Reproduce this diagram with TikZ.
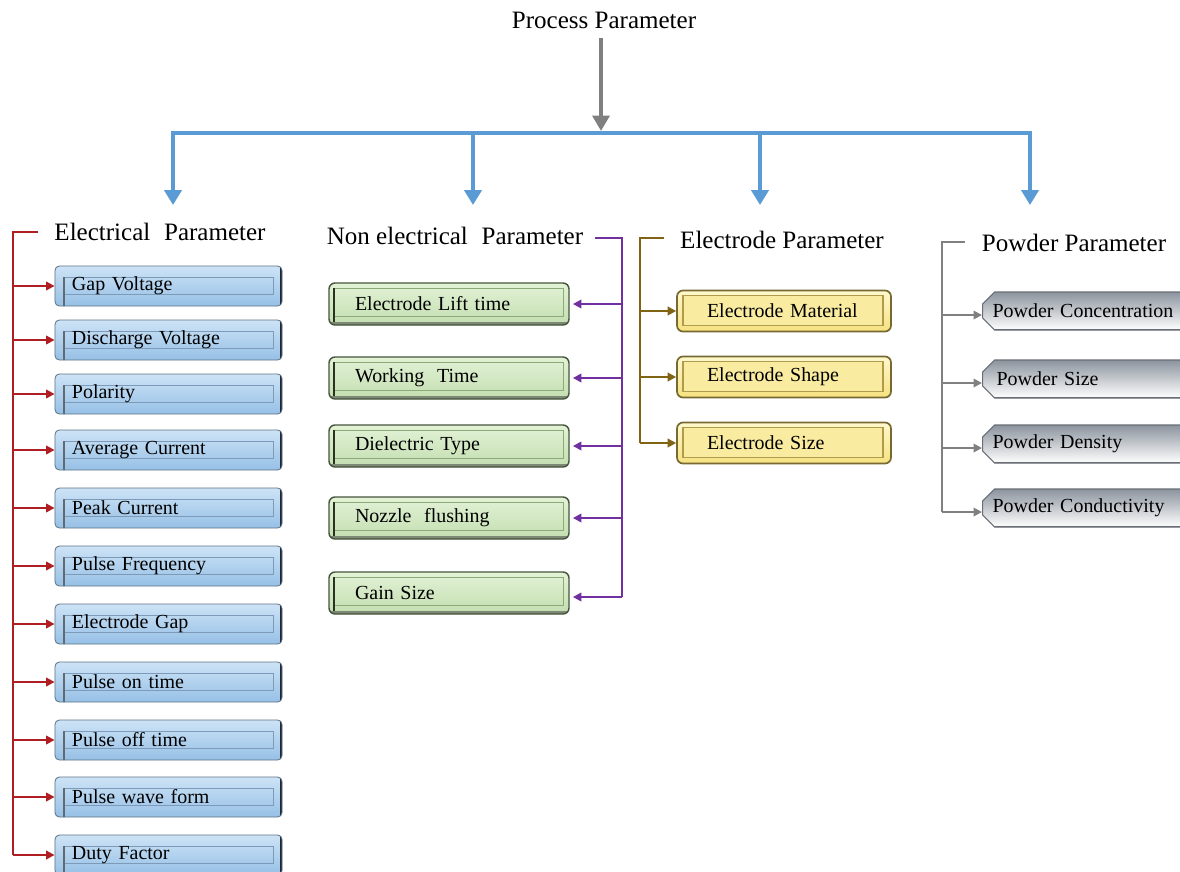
\documentclass[tikz,border=0pt]{standalone}
\usepackage{fontspec}
\setmainfont{Liberation Serif}
\usetikzlibrary{arrows.meta,shapes.misc,calc}
\definecolor{redc}{RGB}{175,30,35}
\definecolor{purc}{RGB}{112,48,160}
\definecolor{olic}{RGB}{128,100,20}
\definecolor{grc}{RGB}{128,128,128}
\definecolor{bluec}{RGB}{91,155,213}
\definecolor{btop}{RGB}{205,227,246}
\definecolor{bbot}{RGB}{150,192,230}
\definecolor{bbord}{RGB}{95,115,135}
\definecolor{binner}{RGB}{125,155,185}
\definecolor{bdark}{RGB}{30,40,52}
\definecolor{gtop}{RGB}{226,242,214}
\definecolor{gbot}{RGB}{195,222,176}
\definecolor{gbord}{RGB}{70,85,60}
\definecolor{ginner}{RGB}{140,170,120}
\definecolor{gdark}{RGB}{40,50,30}
\definecolor{ytop}{RGB}{254,248,205}
\definecolor{ybot}{RGB}{246,226,128}
\definecolor{ybord}{RGB}{120,105,50}
\definecolor{yinner}{RGB}{175,155,75}
\definecolor{ktop}{RGB}{140,148,158}
\definecolor{kbord}{RGB}{105,110,118}
\tikzset{
  hdr/.style={font=\fontsize{17.8}{20}\selectfont, inner sep=0pt},
  boxtxt/.style={font=\fontsize{14.2}{16}\selectfont, align=left, inner ysep=0pt},
  bluebox/.style={boxtxt, rounded corners=1.1mm, draw=bbord, line width=0.6pt,
    top color=btop, bottom color=bbot,
    minimum width=56.75mm, minimum height=10mm, text width=48.25mm, inner xsep=4.25mm,
    path picture={
      \draw[binner, line width=0.7pt, sharp corners] ([shift={(9,11)}]path picture bounding box.north west) rectangle ([shift={(-9,-12)}]path picture bounding box.south east);
      \draw[bdark!70, line width=1pt] ([shift={(9,11)}]path picture bounding box.north west) -- ([shift={(9,12)}]path picture bounding box.south west);
      \draw[bdark, line width=3pt] (path picture bounding box.north east) -- (path picture bounding box.south east);
    }},
  greenbox/.style={boxtxt, rounded corners=1.5mm, draw=gbord, line width=1pt,
    top color=gtop, bottom color=gbot,
    minimum width=60mm, minimum height=10.5mm, text width=47mm, inner xsep=6.5mm,
    path picture={
      \draw[ginner, line width=0.7pt, sharp corners] ([shift={(5,5)}]path picture bounding box.north west) rectangle ([shift={(-6,-9)}]path picture bounding box.south east);
      \draw[gdark, line width=1.4pt] ([shift={(5,5)}]path picture bounding box.north west) -- ([shift={(5,9)}]path picture bounding box.south west);
      \draw[gbord!70, line width=4pt] (path picture bounding box.south west) -- (path picture bounding box.south east);
    }},
  yellowbox/.style={boxtxt, rounded corners=1.5mm, draw=ybord, line width=1.2pt,
    top color=ytop, bottom color=ybot,
    minimum width=53.5mm, minimum height=10.25mm, text width=38.5mm, inner xsep=7.5mm,
    path picture={
      \draw[yinner, line width=0.8pt, sharp corners, fill=ybot!60!ytop] ([shift={(6,5)}]path picture bounding box.north west) rectangle ([shift={(-8,-6)}]path picture bounding box.south east);
    }},
  graybox/.style={boxtxt, anchor=west, chamfered rectangle, chamfered rectangle xsep=1.5mm, chamfered rectangle ysep=1.5mm,
    draw=kbord, line width=0.8pt,
    top color=ktop, bottom color=white,
    minimum height=9.5mm, text width=52mm, inner xsep=1mm,
    path picture={
      \draw[kbord, line width=2pt] (path picture bounding box.south west) -- (path picture bounding box.south east);
    }},
  redl/.style={draw=redc, line width=1.6pt},
  redarr/.style={redl, -{Triangle[length=6pt,width=6pt]}},
  purl/.style={draw=purc, line width=1.6pt},
  purarr/.style={purl, -{Triangle[length=6pt,width=6pt]}},
  olil/.style={draw=olic, line width=1.6pt},
  oliarr/.style={olil, -{Triangle[length=6pt,width=6pt]}},
  grl/.style={draw=grc, line width=1.4pt},
  grarr/.style={grl, -{Triangle[length=6pt,width=6pt]}},
  bluel/.style={draw=bluec, line width=2.8pt},
  bluearr/.style={bluel, -{Triangle[length=10.5pt,width=12pt]}},
  toparr/.style={draw=grc, line width=3.5pt, -{Triangle[length=11pt,width=12pt]}},
}
\begin{document}
\begin{tikzpicture}[x=0.25mm, y=-0.25mm]
\useasboundingbox (0,0) rectangle (1180,871);
\fill[white] (0,0) rectangle (1180,871);
\clip (0,0) rectangle (1180,871);

% title and blue distributor
\node[hdr] (pp) at (604,20) {Process Parameter};
\coordinate (bt) at (601,133);
\coordinate (bl) at (173,133);
\coordinate (br) at (1030,133);
\coordinate (b1) at (173,205);
\coordinate (b2) at (473,205);
\coordinate (b3) at (760,205);
\coordinate (b4) at (1030,205);
\draw[bluel, line cap=rect] (bl) -- (br);
\draw[bluearr] (bl) -- (b1);
\draw[bluearr] (bt -| b2) -- (b2);
\draw[bluearr] (bt -| b3) -- (b3);
\draw[bluearr] (br) -- (b4);
\coordinate (pps) at (601,38);
\draw[toparr] (pps) -- ([yshift=0.5mm]bt);

% headers
\node[hdr] (eh) at (160,232) {Electrical\hspace{0.3em} Parameter};
\node[hdr] (nh) at (455,236) {Non electrical\hspace{0.3em} Parameter};
\node[hdr] (oh) at (782,240) {Electrode Parameter};
\node[hdr] (gh) at (1074,243) {Powder Parameter};

% electrical boxes
\node[bluebox] (e1) at (168.5,286) {Gap Voltage};
\node[bluebox] (e2) at (168.5,340) {Discharge Voltage};
\node[bluebox] (e3) at (168.5,394) {Polarity};
\node[bluebox] (e4) at (168.5,450) {Average Current};
\node[bluebox] (e5) at (168.5,508) {Peak Current};
\node[bluebox] (e6) at (168.5,566) {Pulse Frequency};
\node[bluebox] (e7) at (168.5,624) {Electrode Gap};
\node[bluebox] (e8) at (168.5,682) {Pulse on time};
\node[bluebox] (e9) at (168.5,740) {Pulse off time};
\node[bluebox] (e10) at (168.5,797) {Pulse wave form};
\node[bluebox] (e11) at (168.5,855) {Duty Factor};

\coordinate (rh) at (38,232);
\coordinate (rt) at (13,232);
\draw[redl] (rh) -- (rt) -- (rt |- e11.west);
\foreach \n in {e1,e2,e3,e4,e5,e6,e7,e8,e9,e10,e11}
  \draw[redarr] (rt |- \n.west) -- (\n.west);

% non electrical boxes
\node[greenbox] (n1) at (449,304) {Electrode Lift time};
\node[greenbox] (n2) at (449,378) {Working\hspace{0.3em} Time};
\node[greenbox] (n3) at (449,446) {Dielectric Type};
\node[greenbox] (n4) at (449,518) {Nozzle\hspace{0.3em} flushing};
\node[greenbox] (n5) at (449,593) {Gain Size};

\coordinate (ph) at (595,238);
\coordinate (pt) at (622,238);
\coordinate (pb) at (622,597);
\draw[purl] (ph) -- (pt) -- (pb);
\foreach \n in {n1,n2,n3,n4}
  \draw[purarr] (pt |- \n.east) -- ([xshift=0.8mm]\n.east);
\draw[purarr] (pb) -- ([xshift=0.8mm]n5.east |- pb);

% electrode boxes
\node[yellowbox] (o1) at (784,311) {Electrode Material};
\node[yellowbox] (o2) at (784,377) {Electrode Shape};
\node[yellowbox] (o3) at (784,443) {Electrode Size};

\coordinate (olh) at (664,238);
\coordinate (olt) at (640,238);
\draw[olil] (olh) -- (olt) -- (olt |- o3.west);
\foreach \n in {o1,o2,o3}
  \draw[oliarr] (olt |- \n.west) -- (\n.west);

% powder boxes
\node[graybox] (k1) at (982,311) {Powder Concentration};
\node[graybox] (k2) at (982,379) {\hspace{0.2em}Powder Size};
\node[graybox] (k3) at (982,444) {Powder Density};
\node[graybox] (k4) at (982,508) {Powder Conductivity};
\foreach \n in {k1,k2,k3,k4}
  \coordinate (\n w) at ($(\n.west)+(0,4)$);

\coordinate (gth) at (965,242);
\coordinate (gtt) at (942,242);
\draw[grl] (gth) -- (gtt) -- (gtt |- k4w);
\foreach \n in {k1,k2,k3,k4}
  \draw[grarr] (gtt |- \n w) -- (\n w);
\end{tikzpicture}
\end{document}
